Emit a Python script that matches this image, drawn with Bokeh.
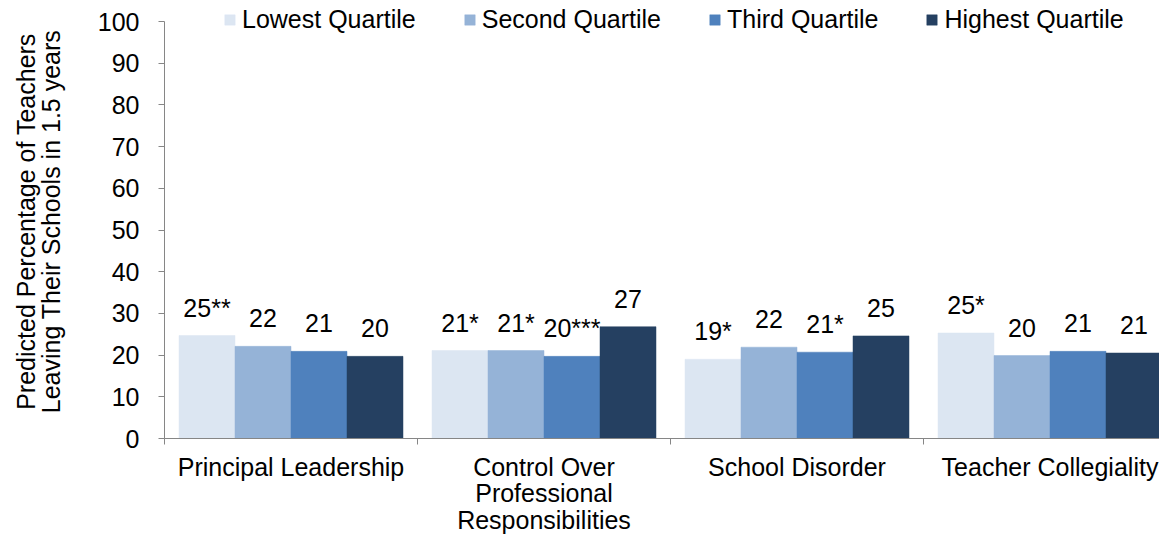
import numpy as np
from bokeh.plotting import figure
from bokeh.models import ColumnDataSource, Range1d, FixedTicker, Legend, LegendItem
from bokeh.embed import file_html
from bokeh.resources import INLINE
from bokeh.core.properties import value

categories = ["Principal Leadership",
              "Control Over\nProfessional\nResponsibilities",
              "School Disorder",
              "Teacher Collegiality"]
quartiles = ["Lowest Quartile", "Second Quartile", "Third Quartile", "Highest Quartile"]
lowest = [24.7, 21.1, 19.0, 25.3]
second = [22.1, 21.1, 21.9, 19.9]
third = [20.9, 19.7, 20.7, 20.9]
highest = [19.7, 26.8, 24.6, 20.5]
lowest_labels = ["25**", "21*", "19*", "25*"]
second_labels = ["22", "21*", "22", "20"]
third_labels = ["21", "20***", "21*", "21"]
highest_labels = ["20", "27", "25", "21"]
y_ticks = list(range(0, 101, 10))
y_max = 100

colors = ["#DCE6F2", "#95B3D7", "#4F81BD", "#254061"]
FONT = "Liberation Sans"
FS = "25px"
AXIS_GREY = "#868686"

series = [lowest, second, third, highest]
series_labels = [lowest_labels, second_labels, third_labels, highest_labels]

# layout (pixels)
frame_w = 995.0
group_px = 253.0
x_end = frame_w / group_px
bar_w = 56.0 / group_px
axis_px = 417.0          # pixel height of 0..100
top_pad_px = 17.0        # frame extends above 100 so the legend is not clipped
y_end = y_max * (axis_px + top_pad_px) / axis_px

p = figure(width=1159, height=537, output_backend="svg", toolbar_location=None,
           x_range=Range1d(0, x_end), y_range=Range1d(0, y_end),
           min_border_left=164, min_border_right=0, min_border_top=4,
           min_border_bottom=99)
p.outline_line_color = None
p.xgrid.grid_line_color = None
p.ygrid.grid_line_color = None
p.background_fill_color = "white"
p.border_fill_color = "white"

centers = np.arange(len(categories)) + 0.5
items = []
for k, (vals, labs) in enumerate(zip(series, series_labels)):
    off = (k - 1.5) * bar_w
    src = ColumnDataSource(dict(x=centers + off, top=vals, lab=labs))
    r = p.vbar(x="x", top="top", bottom=0, width=bar_w, source=src,
               fill_color=colors[k], line_color=colors[k], line_width=0.5)
    p.text(x="x", y="top", text="lab", source=src, text_align="center",
           text_baseline="alphabetic", y_offset=-28,
           text_font=value(FONT), text_font_size=FS, text_color="black")
    items.append(LegendItem(label=quartiles[k], renderers=[r]))

legend = Legend(items=items, orientation="horizontal", location=(59, 404),
                glyph_width=13, glyph_height=13, label_standoff=6, spacing=47,
                padding=0, margin=0, border_line_color=None,
                background_fill_alpha=0, label_text_font=FONT,
                label_text_font_size=FS, label_text_color="black",
                label_height=26)
p.add_layout(legend, "center")

# y axis
p.yaxis.ticker = FixedTicker(ticks=y_ticks, minor_ticks=[])
p.yaxis.bounds = (0, y_max)
p.yaxis.major_tick_out = 6
p.yaxis.major_tick_in = 0
p.yaxis.minor_tick_line_color = None
p.yaxis.axis_line_color = AXIS_GREY
p.yaxis.major_tick_line_color = AXIS_GREY
p.yaxis.major_label_standoff = 19
p.yaxis.major_label_text_font = FONT
p.yaxis.major_label_text_font_size = FS
p.yaxis.major_label_text_color = "black"
p.yaxis.axis_label = "Predicted Percentage of Teachers\nLeaving Their Schools in 1.5 years"
p.yaxis.axis_label_text_font = FONT
p.yaxis.axis_label_text_font_size = FS
p.yaxis.axis_label_text_font_style = "normal"
p.yaxis.axis_label_text_color = "black"
p.yaxis.axis_label_text_line_height = 0.9
p.yaxis.axis_label_standoff = 30

# x axis
p.xaxis.ticker = FixedTicker(ticks=list(centers),
                             minor_ticks=list(np.arange(len(categories) + 1)))
p.xaxis.major_label_overrides = {float(c): lab for c, lab in zip(centers, categories)}
p.xaxis.major_tick_out = 0
p.xaxis.major_tick_in = 0
p.xaxis.minor_tick_out = 6
p.xaxis.minor_tick_in = 0
p.xaxis.minor_tick_line_color = AXIS_GREY
p.xaxis.axis_line_color = AXIS_GREY
p.xaxis.major_label_standoff = 8
p.xaxis.major_label_text_font = FONT
p.xaxis.major_label_text_font_size = FS
p.xaxis.major_label_text_color = "black"
p.xaxis.major_label_text_line_height = 0.95

open("out.html", "w").write(file_html(p, INLINE))
